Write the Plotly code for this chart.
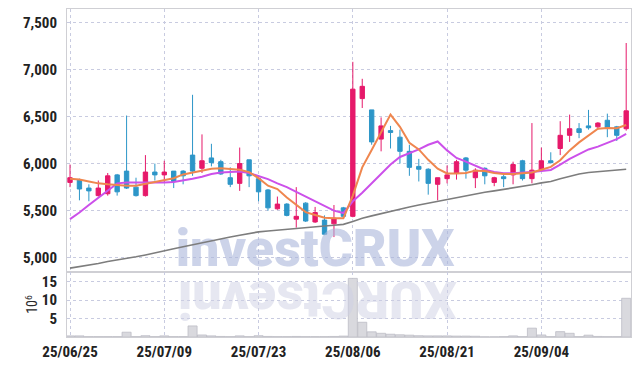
import plotly.graph_objects as go

dates = [
    "2025-06-25", "2025-06-26", "2025-06-27", "2025-06-30", "2025-07-01", "2025-07-02", "2025-07-03", "2025-07-04",
    "2025-07-07", "2025-07-08", "2025-07-09", "2025-07-10", "2025-07-11", "2025-07-14", "2025-07-15", "2025-07-16",
    "2025-07-17", "2025-07-18", "2025-07-21", "2025-07-22", "2025-07-23", "2025-07-24", "2025-07-25", "2025-07-28",
    "2025-07-29", "2025-07-30", "2025-07-31", "2025-08-01", "2025-08-04", "2025-08-05", "2025-08-06", "2025-08-07",
    "2025-08-08", "2025-08-11", "2025-08-12", "2025-08-13", "2025-08-14", "2025-08-18", "2025-08-19", "2025-08-20",
    "2025-08-21", "2025-08-22", "2025-08-25", "2025-08-26", "2025-08-27", "2025-08-28", "2025-08-29", "2025-09-01",
    "2025-09-02", "2025-09-03", "2025-09-04", "2025-09-05", "2025-09-08", "2025-09-09", "2025-09-10", "2025-09-11",
    "2025-09-12", "2025-09-15", "2025-09-16", "2025-09-17",
]

open_p = [5800, 5830, 5740, 5660, 5680, 5880, 5920, 5750, 5660, 5910, 5880, 5920, 5920, 6090, 5950,
          6060, 6020, 5850, 5790, 6040, 5840, 5720, 5520, 5570, 5410, 5580, 5380, 5400, 5360, 5530,
          5440, 6690, 6570, 6260, 6350, 6280, 6130, 5970, 5940, 5780, 5840, 5900, 6060, 5850, 5950,
          5800, 5860, 5880, 6030, 5840, 5930, 6030, 6160, 6300, 6370, 6400, 6390, 6460, 6390, 6370]
high_p = [5990, 5840, 5780, 5820, 5900, 5890, 6510, 5850, 6090, 6000, 6030, 5920, 5930, 6730, 6310,
          6210, 6040, 5960, 6170, 6040, 5840, 5730, 5650, 5580, 5750, 5590, 5540, 5450, 5560, 5540,
          7080, 6900, 6570, 6490, 6400, 6360, 6200, 6050, 5950, 5850, 5980, 6040, 6070, 5950, 5960,
          5860, 5890, 6020, 6040, 6430, 6170, 6120, 6450, 6520, 6430, 6570, 6440, 6530, 6400, 7280]
low_p = [5750, 5610, 5600, 5650, 5660, 5660, 5730, 5650, 5650, 5820, 5800, 5740, 5780, 5870, 5900,
         5970, 5880, 5750, 5710, 5750, 5600, 5500, 5510, 5440, 5320, 5380, 5370, 5240, 5220, 5420,
         5430, 6590, 6200, 6130, 6160, 6000, 5870, 5810, 5670, 5610, 5790, 5830, 5840, 5740, 5780,
         5760, 5750, 5780, 5820, 5790, 5920, 6000, 6090, 6230, 6270, 6360, 6360, 6280, 6240, 6350]
close_p = [5850, 5730, 5710, 5740, 5870, 5700, 5740, 5660, 5910, 5880, 5910, 5810, 5870, 5920, 6030,
           6010, 5890, 5780, 6000, 5870, 5700, 5530, 5570, 5450, 5440, 5390, 5480, 5250, 5420, 5440,
           6790, 6820, 6230, 6400, 6330, 6130, 5960, 5940, 5790, 5850, 5880, 6020, 5930, 5930, 5870,
           5850, 5840, 5990, 5840, 5930, 6030, 6010, 6300, 6370, 6330, 6380, 6430, 6380, 6300, 6560]

ma_short = [5840, 5830, 5810, 5790, 5780, 5770, 5765, 5765, 5785, 5800, 5825, 5845, 5885, 5905, 5930,
            5945, 5950, 5945, 5935, 5910, 5845, 5765, 5730, 5640, 5560, 5485, 5455, 5425, 5420, 5420,
            5660, 5960, 6145, 6330, 6520, 6390, 6220, 6150, 6040, 5945, 5895, 5895, 5900, 5925, 5920,
            5900, 5890, 5890, 5895, 5905, 5935, 5965, 6035, 6140, 6225, 6300, 6370, 6378, 6375, 6410]
ma_mid = [5410, 5480, 5560, 5640, 5720, 5790, 5800, 5800, 5795, 5795, 5800, 5805, 5820, 5840, 5860,
          5890, 5905, 5912, 5915, 5900, 5870, 5835, 5790, 5750, 5700, 5650, 5600, 5555, 5500, 5475,
          5600, 5690, 5790, 5890, 5990, 6070, 6110, 6150, 6200, 6235, 6140, 6060, 6020, 5975, 5935,
          5910, 5897, 5897, 5900, 5910, 5920, 5932, 5990, 6050, 6100, 6150, 6180, 6220, 6260, 6315]
ma_long = [4890, 4905, 4925, 4940, 4960, 4975, 4990, 5010, 5030, 5050, 5070, 5095, 5118, 5140, 5160,
           5180, 5200, 5220, 5240, 5260, 5275, 5285, 5295, 5305, 5315, 5322, 5330, 5338, 5345, 5355,
           5385, 5420, 5445, 5470, 5495, 5520, 5540, 5560, 5580, 5600, 5620, 5640, 5660, 5680, 5695,
           5710, 5725, 5740, 5760, 5775, 5795, 5810, 5840, 5865, 5890, 5905, 5915, 5922, 5930, 5940]

volume_m = [0.3, 0.3, 0.1, 0.1, 0.1, 0.1, 1.3, 0.1, 0.35, 0.1, 0.3, 0.1, 0.1, 3.0, 0.55,
            0.3, 0.15, 0.1, 0.3, 0.1, 0.35, 0.15, 0.1, 0.1, 0.15, 0.1, 0.1, 0.1, 0.15, 0.25,
            15.9, 4.0, 1.4, 1.0, 0.75, 0.6, 0.5, 0.35, 0.3, 0.3, 0.3, 0.25, 0.25, 0.2, 0.05,
            0.05, 0.1, 0.3, 0.1, 2.4, 0.55, 0.1, 1.45, 1.0, 0.1, 0.5, 0.15, 0.1, 0.1, 10.5]

tick_dates = ["2025-06-25", "2025-07-09", "2025-07-23", "2025-08-06", "2025-08-21", "2025-09-04"]
tick_labels = ["25/06/25", "25/07/09", "25/07/23", "25/08/06", "25/08/21", "25/09/04"]
price_ticks = [5000, 5500, 6000, 6500, 7000, 7500]
volume_ticks = [5, 10, 15]
watermark = "investCRUX"

RED = "#e6196a"
BLUE = "#2d96c8"
GRID = "#c8cbe0"
FRAME = "#cfcfd4"
TICKFONT = dict(family="Liberation Sans Narrow, Roboto Condensed, DejaVu Sans Condensed, sans-serif",
                size=15, color="#222222", weight="bold")
WMFONT = "Roboto, Liberation Sans, sans-serif"

fig = go.Figure()
fig.add_trace(go.Bar(
    x=dates, y=volume_m, yaxis="y2",
    marker=dict(color="#d9d9de", line=dict(color="#bdbdc5", width=0.8)),
    showlegend=False, hoverinfo="skip"))
fig.add_trace(go.Candlestick(
    x=dates, open=open_p, high=high_p, low=low_p, close=close_p,
    increasing=dict(line=dict(color=RED, width=1), fillcolor=RED),
    decreasing=dict(line=dict(color=BLUE, width=1), fillcolor=BLUE),
    whiskerwidth=0, showlegend=False))
# watermark text sits underneath the moving-average lines
fig.add_trace(go.Scatter(
    x=[dates[26]], y=[5050], mode="text", text=[watermark], textposition="middle center",
    textfont=dict(family=WMFONT, size=52, color="rgba(170,182,218,0.6)", weight=900),
    showlegend=False, hoverinfo="skip"))
fig.add_trace(go.Scatter(x=dates, y=ma_long, mode="lines",
                         line=dict(color="#7d7d7d", width=1.6), showlegend=False))
fig.add_trace(go.Scatter(x=dates, y=ma_mid, mode="lines",
                         line=dict(color="#cc50ea", width=2), showlegend=False))
fig.add_trace(go.Scatter(x=dates, y=ma_short, mode="lines",
                         line=dict(color="#ef864e", width=2), showlegend=False))

split = (337 - 272) / 328

fig.update_layout(
    width=639, height=366,
    margin=dict(l=67, r=8, t=9, b=29, autoexpand=False),
    paper_bgcolor="white", plot_bgcolor="white",
    bargap=0.04, boxgap=0.34,
    showlegend=False,
    xaxis=dict(
        type="category", range=[-0.32, 59.51], anchor="y2", automargin=False,
        tickmode="array", tickvals=tick_dates, ticktext=tick_labels,
        tickfont=TICKFONT, ticks="outside", ticklen=1, tickcolor="rgba(0,0,0,0)",
        showgrid=True, gridcolor=GRID, griddash="dot", gridwidth=1,
        showline=True, linecolor=FRAME, linewidth=1, mirror="all",
        rangeslider=dict(visible=False), fixedrange=True),
    yaxis=dict(
        domain=[split, 1], range=[4849, 7641], automargin=False,
        tickmode="array", tickvals=price_ticks, tickformat=",",
        tickfont=TICKFONT, ticks="outside", ticklen=6, tickcolor="rgba(0,0,0,0)",
        showgrid=True, gridcolor=GRID, griddash="dot", gridwidth=1, zeroline=False,
        showline=True, linecolor=FRAME, linewidth=1, mirror=True),
    yaxis2=dict(
        domain=[0, split], range=[0, 17.63], automargin=False,
        tickmode="array", tickvals=volume_ticks,
        tickfont=TICKFONT, ticks="outside", ticklen=6, tickcolor="rgba(0,0,0,0)",
        showgrid=True, gridcolor=GRID, griddash="dot", gridwidth=1, zeroline=False,
        showline=True, linecolor=FRAME, linewidth=1, mirror=True,
        title=dict(text="10<sup>6</sup>",
                   font=dict(family=TICKFONT["family"], size=14, color="#2a2a2a"),
                   standoff=0)),
    annotations=[
        # mirrored reflection of the watermark (reversed string turned upside down)
        dict(xref="paper", yref="paper", x=0.444, y=0.116, xanchor="center", yanchor="middle",
             text=watermark[::-1], textangle=180, showarrow=False,
             font=dict(family=WMFONT, size=52, color="rgba(205,208,228,0.5)", weight=900)),
    ],
)

fig.write_html("out.html", config={"displayModeBar": False},
               post_script="document.body.style.margin='0';document.body.style.padding='0';")
